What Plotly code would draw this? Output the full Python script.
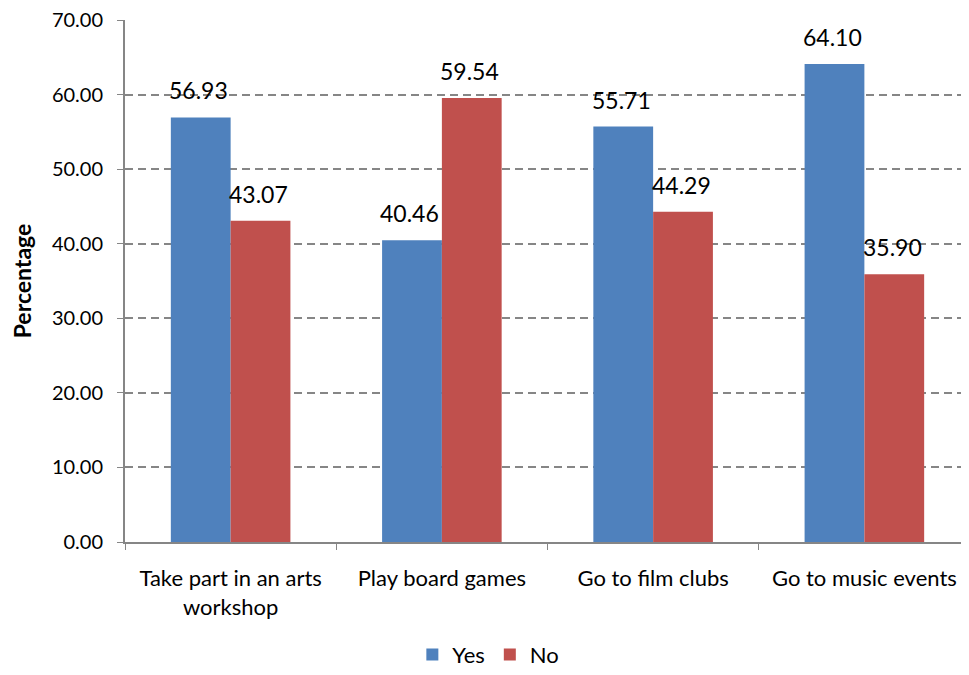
import plotly.graph_objects as go

categories = ["Take part in an arts<br>workshop", "Play board games", "Go to film clubs", "Go to music events"]
yes_values = [56.93, 40.46, 55.71, 64.10]
no_values = [43.07, 59.54, 44.29, 35.90]
series_names = ["Yes", "No"]
y_ticks = [0, 10, 20, 30, 40, 50, 60, 70]

FONT = "Lato"
fig = go.Figure()
fig.add_trace(go.Bar(x=categories, y=yes_values, name=series_names[0], marker_color="#4F81BD",
                     marker_line_width=0))
fig.add_trace(go.Bar(x=categories, y=no_values, name=series_names[1], marker_color="#C0504D",
                     marker_line_width=0))

for vals, shift in ((yes_values, -30), (no_values, 30)):
    for c, v in zip(categories, vals):
        fig.add_annotation(x=c, y=v, text=f"{v:.2f}", showarrow=False, xref="x", yref="y",
                           xshift=shift - 2, yshift=11, yanchor="bottom",
                           font=dict(family=FONT, size=23, color="#000000"))

fig.update_layout(
    width=962, height=668,
    margin=dict(l=117, r=0, t=12, b=134, autoexpand=False),
    paper_bgcolor="white", plot_bgcolor="white",
    barmode="group", bargap=0.434, bargroupgap=0,
    font=dict(family=FONT, size=22, color="#000000"),
    legend=dict(orientation="h", x=0.43, xanchor="center", y=-0.216, yanchor="middle",
                font=dict(family=FONT, size=22), itemwidth=30, traceorder="normal",
                tracegroupgap=0),
    showlegend=True,
)
fig.update_xaxes(showline=True, linecolor="#868686", linewidth=1.5, ticks="outside",
                 tickson="boundaries", ticklen=6, tickcolor="#868686", automargin=False,
                 tickfont=dict(family=FONT, size=22), showgrid=False, ticklabelstandoff=16)
fig.update_yaxes(range=[0, 70], tickvals=y_ticks,
                 ticktext=[f"{v:.2f}\u00a0\u00a0" for v in y_ticks], showline=True,
                 linecolor="#868686", linewidth=1.5, ticks="outside", ticklen=6,
                 tickcolor="#868686", showgrid=True, gridcolor="#868686", griddash="8px,5px",
                 gridwidth=1.5, zeroline=False, tickfont=dict(family=FONT, size=20),
                 automargin=False, ticklabeloverflow="allow",
                 title=dict(text="<b>Percentage</b>", font=dict(family=FONT, size=23),
                            standoff=16))

fig.write_html("out.html")
